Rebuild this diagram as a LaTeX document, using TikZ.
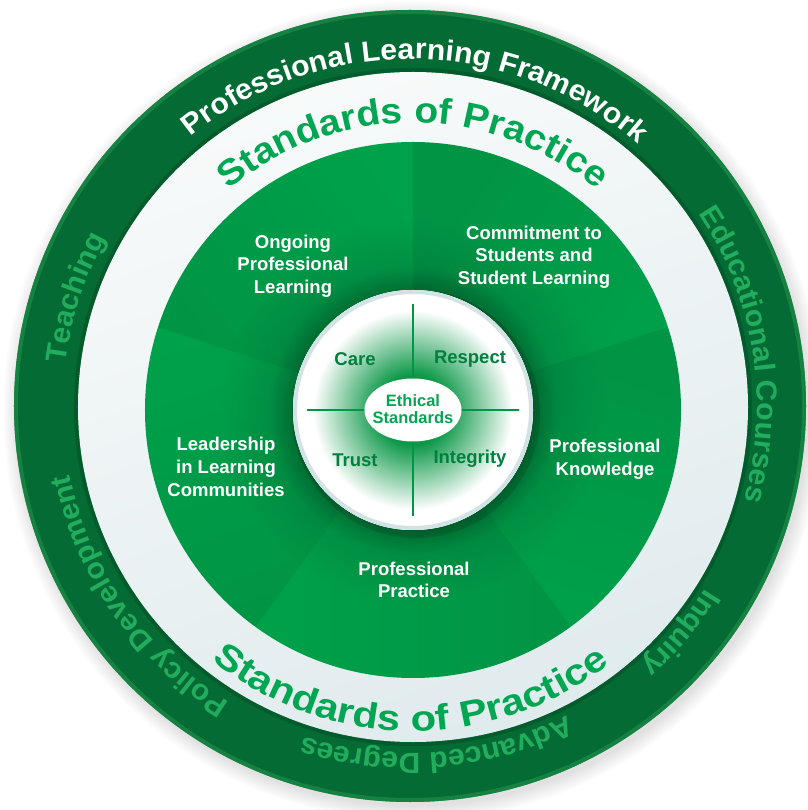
\documentclass[tikz,border=0pt]{standalone}
\usepackage{fontspec}
\setmainfont{Liberation Sans}
\newfontfamily\trackfamily[FakeStretch=1.04]{Liberation Sans}
\newfontfamily\bandfamily[FakeStretch=1.08]{Liberation Sans}
\newfontfamily\lowbandfamily[FakeStretch=1.16]{Liberation Sans}
\usetikzlibrary{decorations.text,shapes.geometric}

\definecolor{ringdark}{RGB}{3,107,51}
\definecolor{ringrim}{RGB}{30,140,72}
\definecolor{ringword}{RGB}{34,172,94}
\definecolor{sopgreen}{RGB}{0,166,81}
\definecolor{discbright}{RGB}{0,161,75}
\definecolor{discmid}{RGB}{0,146,68}
\definecolor{discdark}{RGB}{0,110,51}
\definecolor{glowgreen}{RGB}{12,152,72}
\definecolor{quadgreen}{RGB}{0,128,62}
\definecolor{linegreen}{RGB}{0,150,70}
\definecolor{bandtop}{RGB}{248,250,250}
\definecolor{bandgrey}{RGB}{224,235,237}
\definecolor{rimgrey}{RGB}{210,226,229}

% shadings are fitted so that 25bp meets the path's edge
\pgfdeclareradialshading{discglow}{\pgfpoint{0bp}{0bp}}{color(0bp)=(discdark); color(11.2bp)=(discdark); color(13.5bp)=(discmid); color(18bp)=(discbright); color(50bp)=(discbright)}
\pgfdeclareradialshading{ethicglow}{\pgfpoint{0bp}{0bp}}{color(0bp)=(glowgreen); color(7.3bp)=(glowgreen); color(20.8bp)=(white); color(50bp)=(white)}

\newcommand\ringfont{\trackfamily\bfseries\fontsize{29}{30}\selectfont}
\newcommand\bandfont{\bandfamily\bfseries\fontsize{36}{38}\selectfont}
\newcommand\lowbandfont{\lowbandfamily\bfseries\fontsize{36}{38}\selectfont}
\newcommand\pillarfont{\bfseries\fontsize{18.5}{22.7}\selectfont}
\newcommand\virtuefont{\bfseries\fontsize{18.5}{22}\selectfont}
\newcommand\ethicfont{\bfseries\fontsize{16.5}{17.2}\selectfont}

\begin{document}
\begin{tikzpicture}[x=1pt,y=1pt,
    pillar/.style={text=white,font=\pillarfont,align=center,inner sep=0pt},
    virtue/.style={text=quadgreen,font=\virtuefont,inner sep=0pt},
    ethic/.style={text=sopgreen,font=\ethicfont,align=center,inner sep=0pt},
    crossline/.style={draw=linegreen,line width=1.4pt},
    arcword/.style={decorate,decoration={text along path,text align=center,text={#1}}}]
  \useasboundingbox (-413,-400) rectangle (394,410);
  \fill[white] (-413,-400) rectangle (394,410);
  \coordinate (ringc) at (-3,4);
  % shadow
  \foreach \s in {1,...,10}
    \fill[black,opacity=0.012] ([shift={(3,-5)}]ringc) circle[radius=394+1.6*\s];
  % outer ring
  \fill[ringdark] (ringc) circle[radius=396];
  \draw[ringrim,line width=4pt,opacity=0.7] (ringc) circle[radius=394];
  \draw[black,line width=4pt,opacity=0.15] (0,3) circle[radius=337];
  % white band
  \shade[top color=bandtop,bottom color=bandgrey,shading angle=20] (0,3) circle[radius=335];
  % five pillars
  \shade[shading=discglow] (0,0) circle[radius=268];
  \foreach \a [evaluate=\a as \b using \a+36] in {18,90,162,234,306}
    \shade[top color=black,bottom color=discbright,shading angle=\b,opacity=0.08]
      (0,0) -- (\a:268) arc[start angle=\a,end angle=\a+72,radius=268] -- cycle;
  % ethical standards
  \fill[black,opacity=0.12] (3,-4) circle[radius=124];
  \fill[white] (0,0) circle[radius=120];
  \shade[shading=ethicglow] (0,0) circle[radius=120];
  \draw[rimgrey,line width=4pt] (0,0) circle[radius=118];
  \node[ellipse,fill=white,minimum width=97,minimum height=63,inner sep=0pt] (ethics) at (0,0) {};
  \node[ethic] (ethicslabel) at (0,1) {Ethical\\Standards};
  \foreach \a/\side in {90/north,0/east,-90/south,180/west}
    \draw[crossline] (ethics.\side) -- (\a:106);
  \node[virtue] (care) at (-58,51) {Care};
  \node[virtue] (respect) at (57,51) {Respect};
  \node[virtue] (trust) at (-58,-50) {Trust};
  \node[virtue] (integrity) at (57,-49) {Integrity};
  % pillar labels
  \node[pillar] (ongoing) at (-120,144) {Ongoing\\Professional\\Learning};
  \node[pillar] (commitment) at (121,153) {Commitment to\\Students and\\Student Learning};
  \node[pillar] (leadership) at (-187,-57) {Leadership\\in Learning\\Communities};
  \node[pillar] (knowledge) at (192,-49) {Professional\\Knowledge};
  \node[pillar] (practice) at (1,-170) {Professional\\Practice};
  % standards of practice
  \path[arcword={|\bandfont\color{sopgreen}|Standards of Practice}]
    (0,0) ++(165:287) arc[start angle=165,end angle=15,radius=287];
  \path[arcword={|\lowbandfont\color{sopgreen}|Standards of Practice}]
    (0,0) ++(194.5:321) arc[start angle=194.5,end angle=344.5,radius=321];
  % ring words
  \path[arcword={|\ringfont\color{white}|Professional Learning Framework}]
    (ringc) ++(159:347) arc[start angle=159,end angle=19,radius=347];
  \path[arcword={|\ringfont\color{ringword}|Teaching}]
    (ringc) ++(232:347) arc[start angle=232,end angle=92,radius=347];
  \path[arcword={|\ringfont\color{ringword}|Policy Development}]
    (ringc) ++(285:347) arc[start angle=285,end angle=145,radius=347];
  \path[arcword={|\ringfont\color{ringword}|Educational Courses}]
    (ringc) ++(79:347) arc[start angle=79,end angle=-61,radius=347];
  \path[arcword={|\ringfont\color{ringword}|Inquiry}]
    (ringc) ++(30:347) arc[start angle=30,end angle=-110,radius=347];
  \path[arcword={|\ringfont\color{ringword}|Advanced Degrees}]
    (ringc) ++(-15.5:347) arc[start angle=-15.5,end angle=-155.5,radius=347];
\end{tikzpicture}
\end{document}
